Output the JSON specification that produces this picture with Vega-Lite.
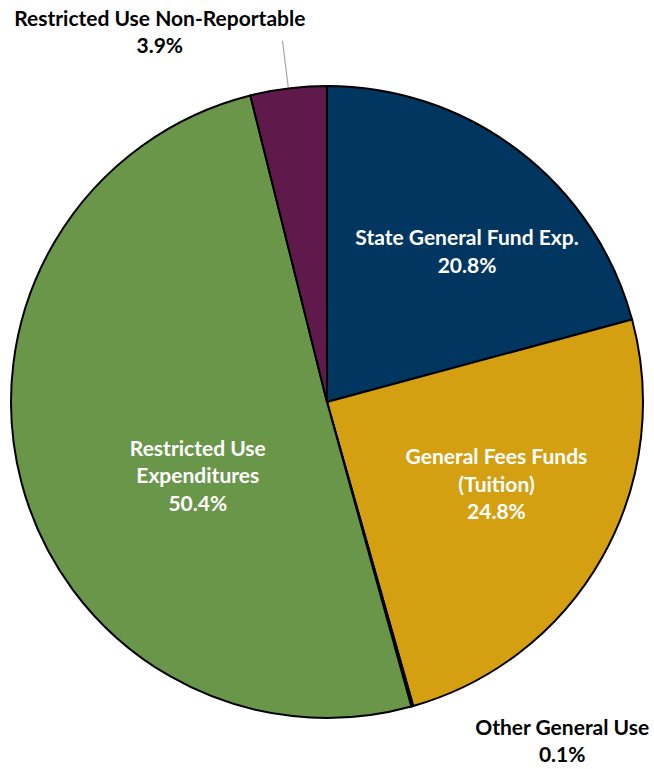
{
  "$schema": "https://vega.github.io/schema/vega-lite/v6.json",
  "width": 654,
  "height": 804,
  "autosize": "none",
  "padding": 0,
  "background": "white",
  "config": {"view": {"stroke": null}, "text": {"font": "Lato", "fontWeight": "bold", "fontSize": 21, "lineHeight": 27.5, "lineBreak": "\n", "align": "center", "baseline": "middle"}},
  "data": {"values": [
    {"category": "State General Fund Exp.", "value": 20.8, "order": 1, "label": "State General Fund Exp.\n20.8%"},
    {"category": "General Fees Funds (Tuition)", "value": 24.8, "order": 2, "label": "General Fees Funds\n(Tuition)\n24.8%"},
    {"category": "Other General Use", "value": 0.1, "order": 3, "label": "Other General Use\n0.1%"},
    {"category": "Restricted Use Expenditures", "value": 50.4, "order": 4, "label": "Restricted Use\nExpenditures\n50.4%"},
    {"category": "Restricted Use Non-Reportable", "value": 3.9, "order": 5, "label": "Restricted Use Non-Reportable\n3.9%"}
  ]},
  "transform": [
    {"stack": "value", "groupby": [], "sort": [{"field": "order", "order": "ascending"}], "as": ["v0", "v1"]},
    {"calculate": "(datum.v0 + datum.v1) / 2", "as": "mid"}
  ],
  "layer": [
    {
      "transform": [{"filter": "datum.order == 5"}],
      "mark": {"type": "arc", "innerRadius": 317, "outerRadius": 364, "fill": null, "stroke": "#A6A6A6", "strokeWidth": 1.2},
      "encoding": {
        "theta": {"field": "mid", "type": "quantitative", "scale": {"domain": [0, 100]}},
        "theta2": {"field": "mid"}
      }
    },
    {
      "mark": {"type": "arc", "outerRadius": 316, "stroke": "black", "strokeWidth": 2},
      "encoding": {
        "theta": {"field": "v0", "type": "quantitative", "scale": {"domain": [0, 100]}},
        "theta2": {"field": "v1"},
        "color": {"field": "category", "type": "nominal", "legend": null,
          "scale": {"domain": ["State General Fund Exp.", "General Fees Funds (Tuition)", "Other General Use", "Restricted Use Expenditures", "Restricted Use Non-Reportable"],
                    "range": ["#003660", "#D4A012", "#7F7F7F", "#6A9649", "#5F1A4B"]}}
      }
    },
    {
      "transform": [{"filter": "datum.order == 1"}],
      "mark": {"type": "text", "radius": 204, "dx": 16, "dy": -1, "color": "white"},
      "encoding": {"theta": {"field": "mid", "type": "quantitative", "scale": {"domain": [0, 100]}}, "text": {"field": "label"}}
    },
    {
      "transform": [{"filter": "datum.order == 2"}],
      "mark": {"type": "text", "radius": 189, "dx": 5, "dy": -37, "color": "white"},
      "encoding": {"theta": {"field": "mid", "type": "quantitative", "scale": {"domain": [0, 100]}}, "text": {"field": "label"}}
    },
    {
      "transform": [{"filter": "datum.order == 3"}],
      "mark": {"type": "text", "radius": 360, "dx": 138, "dy": -20, "color": "black"},
      "encoding": {"theta": {"field": "mid", "type": "quantitative", "scale": {"domain": [0, 100]}}, "text": {"field": "label"}}
    },
    {
      "transform": [{"filter": "datum.order == 4"}],
      "mark": {"type": "text", "radius": 145, "dx": 11, "dy": 11, "color": "white"},
      "encoding": {"theta": {"field": "mid", "type": "quantitative", "scale": {"domain": [0, 100]}}, "text": {"field": "label"}}
    },
    {
      "transform": [{"filter": "datum.order == 5"}],
      "mark": {"type": "text", "radius": 370, "dx": -122, "dy": -15, "color": "black"},
      "encoding": {"theta": {"field": "mid", "type": "quantitative", "scale": {"domain": [0, 100]}}, "text": {"field": "label"}}
    }
  ]
}
